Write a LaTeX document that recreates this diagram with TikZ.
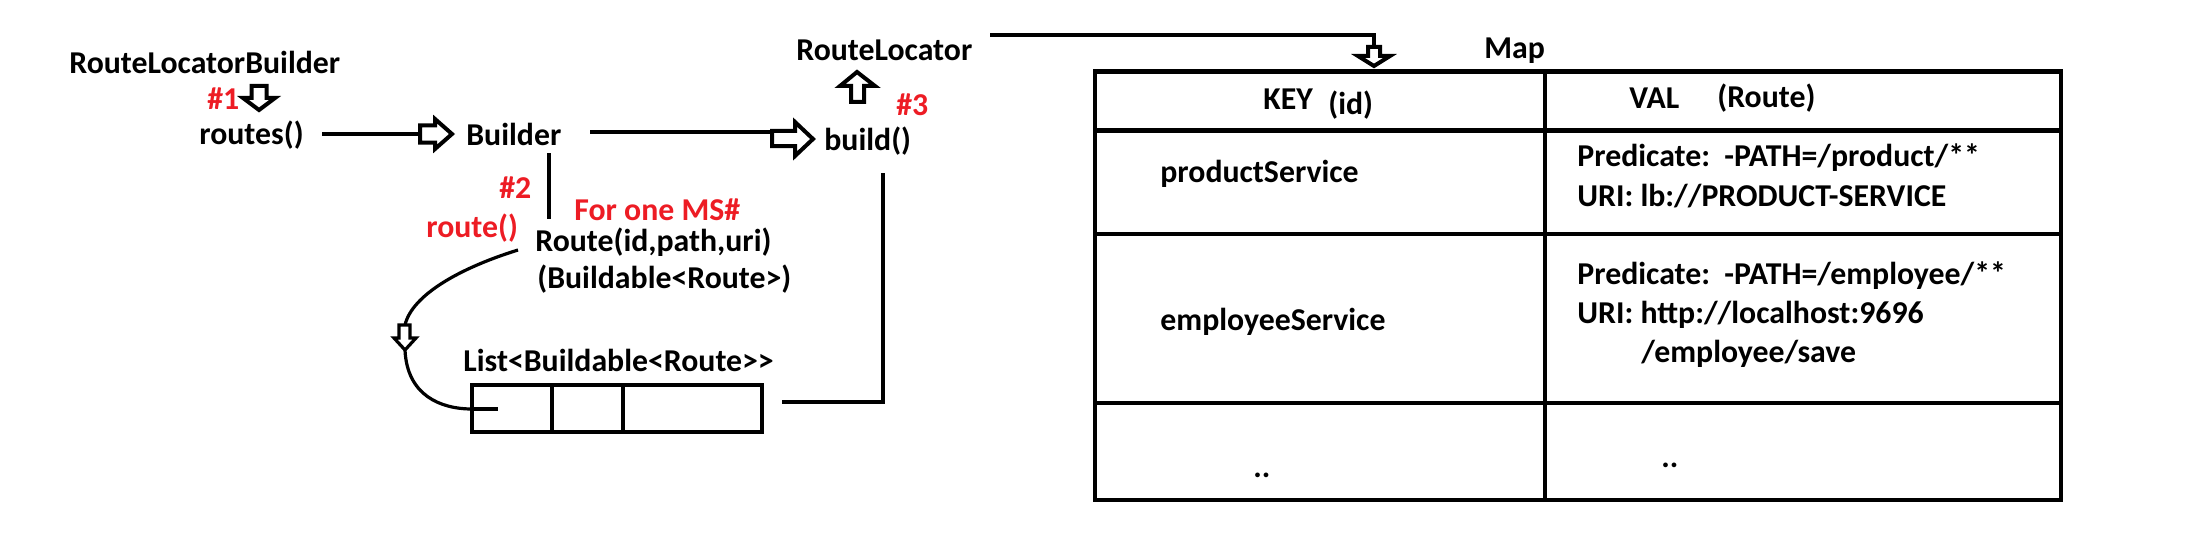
\documentclass[tikz,border=0pt]{standalone}
\usepackage{fontspec}
\setmainfont{Carlito}
\definecolor{pred}{RGB}{237,28,36}
\begin{document}
\begin{tikzpicture}[x=0.5pt,y=-0.5pt,
  txt/.style={inner sep=0pt, anchor=base west, font=\fontsize{15.9pt}{18pt}\selectfont\bfseries},
  redtxt/.style={txt, text=pred},
  conn/.style={line width=1.75pt},
  curveconn/.style={line width=1.6pt},
  blockarrow/.style={line width=2pt, fill=white, draw=black},
  tbl/.style={line width=2.25pt}]
\useasboundingbox (0,0) rectangle (2210,556);

% left part texts
\node[txt] (rlb) at (69,74) {RouteLocatorBuilder};
\node[redtxt] (n1) at (207,110) {\#1};
\node[txt] (routes) at (199,144) {routes()};
\node[txt] (builder) at (466,146) {Builder};
\node[txt] (build) at (824,150) {build()};
\node[txt] (rl) at (796,61) {RouteLocator};
\node[redtxt] (n3) at (896,116) {\#3};
\node[redtxt] (n2) at (499,198) {\#2};
\node[redtxt] (routem) at (426,237) {route()};
\node[redtxt] (forone) at (574,220) {For one MS\#};
\node[txt] (route) at (535,251) {Route(id,path,uri)};
\node[txt] (buildable) at (537,288) {(Buildable<Route>)};
\node[txt] (list) at (463,371) {List<Buildable<Route>\kern0pt>};

% coordinates for connector ends
\coordinate (c1a) at (322,134);
\coordinate (c1b) at (420,134);
\coordinate (c2a) at (590,132);
\coordinate (c2b) at (772,132);
\coordinate (c3a) at (549,153);
\coordinate (c3b) at (549,219);
\coordinate (c4a) at (883,173);
\coordinate (c4b) at (883,402);
\coordinate (c4c) at (782,402);
\coordinate (c5a) at (990,35);
\coordinate (c5b) at (1374,35);
\coordinate (c5c) at (1374,47);
\coordinate (c6a) at (518,250);
\coordinate (c6b) at (405,325);
\coordinate (c6c) at (405,350);
\coordinate (c6d) at (472,409);
\coordinate (c6e) at (498,409);

% connectors
\draw[conn] (c1a) -- (c1b);
\draw[conn] (c2a) -- (c2b);
\draw[conn] (c3a) -- (c3b);
\draw[conn] (c4a) -- (c4b) -- (c4c);
\draw[conn] (c5a) -- (c5b) -- (c5c);
\draw[curveconn] (c6a) .. controls (460,268) and (412,295) .. (c6b);
\draw[curveconn] (c6c) .. controls (407,395) and (440,409) .. (c6d);
\draw[conn] (c6d) -- (c6e);

% hollow block arrows
\draw[blockarrow] (251.5,86) -- (266.5,86) -- (266.5,98) -- (275,98) -- (259,110) -- (243,98) -- (251.5,98) -- cycle;
\draw[blockarrow] (420,125.5) -- (435,125.5) -- (435,119) -- (452,134) -- (435,149) -- (435,142.5) -- (420,142.5) -- cycle;
\draw[blockarrow] (772,131) -- (795,131) -- (795,122) -- (813,139) -- (795,156) -- (795,146) -- (772,146) -- cycle;
\draw[blockarrow] (851,102) -- (851,86) -- (840,86) -- (857,72) -- (875,86) -- (864,86) -- (864,102) -- cycle;
\draw[blockarrow, line width=1.6pt] (399,325) -- (410,325) -- (410,338) -- (416,338) -- (405,350) -- (394,338) -- (399,338) -- cycle;
\draw[blockarrow] (1368,47) -- (1380,47) -- (1380,56) -- (1390,56) -- (1374,66) -- (1358,56) -- (1368,56) -- cycle;

% list box
\draw[line width=2pt] (472,385) rectangle (762,432);
\draw[line width=2pt] (552,385) -- (552,432);
\draw[line width=2pt] (623,385) -- (623,434);

% map table
\node[txt] (map) at (1484,59) {Map};
\draw[tbl] (1095,71.5) rectangle (2061,500);
\draw[tbl] (1095,130.5) -- (2061,130.5);
\draw[tbl] (1095,234) -- (2061,234);
\draw[tbl] (1095,403) -- (2061,403);
\draw[line width=2pt] (1545,71.5) -- (1545,500);

\node[txt] (key) at (1263,110) {KEY};
\node[txt] (keyid) at (1328,114) {(id)};
\node[txt] (val) at (1629,109) {VAL};
\node[txt] (valroute) at (1717,108) {(Route)};
\node[txt] (ps) at (1160,182) {productService};
\node[txt] (pp) at (1577,166) {Predicate:\ \ -PATH=/product/**};
\node[txt] (pu) at (1577,206) {URI: lb://PRODUCT-SERVICE};
\node[txt] (es) at (1160,330) {employeeService};
\node[txt] (ep) at (1577,284) {Predicate:\ \ -PATH=/employee/**};
\node[txt] (eu) at (1577,323) {URI: http://localhost:9696};
\node[txt] (eu2) at (1641,362) {/employee/save};
\node[txt] (dl) at (1253,477) {..};
\node[txt] (dr) at (1661,467) {..};
\end{tikzpicture}
\end{document}
